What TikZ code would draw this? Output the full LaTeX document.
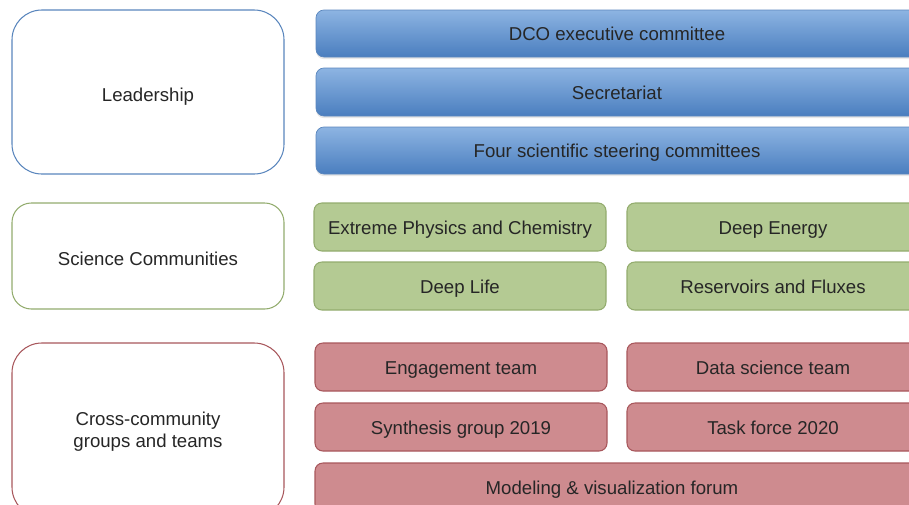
\documentclass[tikz,border=0pt]{standalone}
\usepackage{fontspec}
\setmainfont{Liberation Sans}
\usetikzlibrary{shadows}

\definecolor{txt}{HTML}{262626}
\definecolor{blueTop}{HTML}{8DB4E2}
\definecolor{blueBot}{HTML}{4A7EBF}
\definecolor{blueLine}{HTML}{5A86BD}
\definecolor{greenFill}{HTML}{B4CA93}
\definecolor{greenLine}{HTML}{93AC6E}
\definecolor{redFill}{HTML}{CE8B8F}
\definecolor{redLine}{HTML}{A8575C}

\tikzset{
  group/.style={line width=0.6pt,rounded corners=17pt,fill=white},
  bluebox/.style={draw=blueLine,line width=0.4pt,rounded corners=4.5pt,
    top color=blueTop,bottom color=blueBot,
    drop shadow={opacity=0.18,shadow xshift=0pt,shadow yshift=-1.2pt}},
  greenbox/.style={draw=greenLine,line width=0.6pt,rounded corners=4.5pt,fill=greenFill},
  redbox/.style={draw=redLine,line width=0.6pt,rounded corners=4.5pt,fill=redFill},
  label/.style={text=txt,align=center,inner sep=0pt,text height=7.6pt,text depth=0pt}
}

\begin{document}
\begin{tikzpicture}[x=0.02cm,y=-0.02cm,font=\fontsize{10.6}{12.5}\selectfont]
\useasboundingbox (0,0) rectangle (909,504);
\clip (0,0) rectangle (909,504);

\begin{scope}
\draw[group,draw=blueLine] (12,10) rectangle (284,174);
\draw[bluebox] (316,10) rectangle (919,57);
\draw[bluebox] (316,68) rectangle (919,116);
\draw[bluebox] (316,127) rectangle (919,174);

\node[label] (lead) at (148,95) {Leadership};
\node[label] (dco) at (617,34) {DCO executive committee};
\node[label] (sec) at (617,93) {Secretariat};
\node[label] (steer) at (617,151) {Four scientific steering committees};
\end{scope}

\begin{scope}
\draw[group,rounded corners=11pt,draw=greenLine] (12,203) rectangle (284,309);
\draw[greenbox] (314,203) rectangle (606,251);
\draw[greenbox] (627,203) rectangle (919,251);
\draw[greenbox] (314,262) rectangle (606,310);
\draw[greenbox] (627,262) rectangle (919,310);

\node[label] (sci) at (148,259) {Science Communities};
\node[label] (epc) at (460,228) {Extreme Physics and Chemistry};
\node[label] (energy) at (773,228) {Deep Energy};
\node[label] (life) at (460,287) {Deep Life};
\node[label] (flux) at (773,287) {Reservoirs and Fluxes};
\end{scope}

\begin{scope}
\draw[group,draw=redLine] (12,343) rectangle (284,517);
\draw[redbox] (315,343) rectangle (607,391);
\draw[redbox] (627,343) rectangle (919,391);
\draw[redbox] (315,403) rectangle (607,451);
\draw[redbox] (627,403) rectangle (919,451);
\draw[redbox] (315,463) rectangle (919,512);

\node[label] (cross) at (148,441) {Cross-community\\groups and teams};
\node[label] (engage) at (461,368) {Engagement team};
\node[label] (data) at (773,368) {Data science team};
\node[label] (synth) at (461,428) {Synthesis group 2019};
\node[label] (task) at (773,428) {Task force 2020};
\node[label] (model) at (612,488) {Modeling \& visualization forum};
\end{scope}

\end{tikzpicture}
\end{document}
